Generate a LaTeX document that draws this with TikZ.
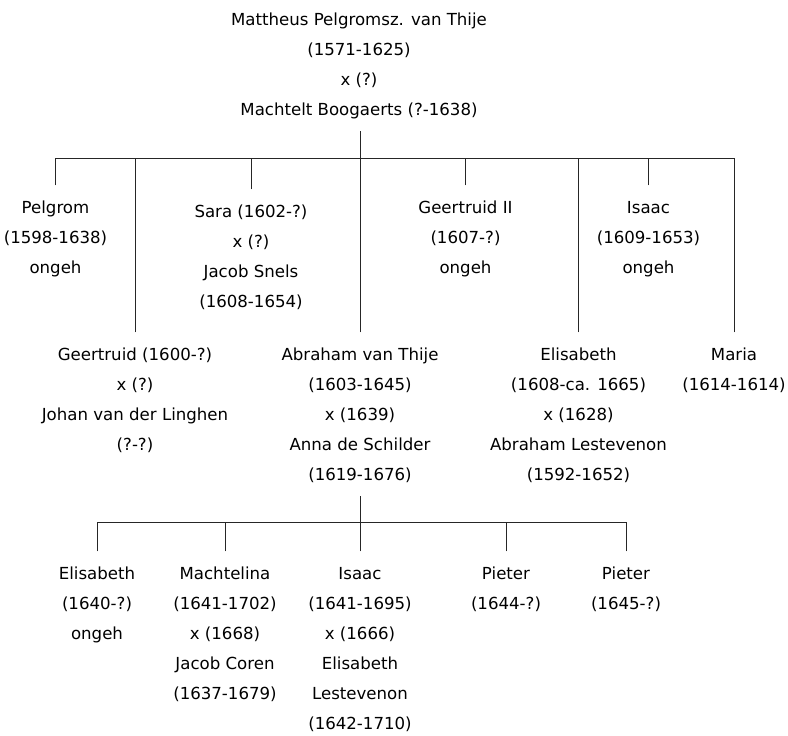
\documentclass[tikz,border=0pt]{standalone}
\usepackage{fontspec}
\setmainfont{DejaVu Sans}
\usetikzlibrary{calc}

\begin{document}
\begin{tikzpicture}[x=1pt, y=-1pt, line cap=rect,
    person/.style={anchor=north, align=center, inner sep=0pt,
        font=\fontsize{16.6}{30}\selectfont},
    tak/.style={line width=0.8pt, black!85},
    kind/.style={tak, shorten >=16pt}]
    \useasboundingbox (0,0) rectangle (788,736);

    % ouders
    \node[person] (mattheus) at (359,13) {Mattheus Pelgromsz. van Thije\\(1571-1625)\\x (?)\\Machtelt Boogaerts (?-1638)};
    \coordinate (s1) at (360,131);
    \coordinate (j1) at (360,158);

    % kinderen, eerste rij
    \node[person] (pelgrom) at (55.5,201) {Pelgrom\\(1598-1638)\\ongeh};
    \node[person] (sara) at (251,205) {Sara (1602-?)\\x (?)\\Jacob Snels\\(1608-1654)};
    \node[person] (geertruid2) at (465.5,201) {Geertruid II\\(1607-?)\\ongeh};
    \node[person] (isaac) at (648.5,201) {Isaac\\(1609-1653)\\ongeh};

    % kinderen, tweede rij
    \node[person] (geertruid) at (135,348) {Geertruid (1600-?)\\x (?)\\Johan van der Linghen\\(?-?)};
    \node[person] (abraham) at (360,348) {Abraham van Thije\\(1603-1645)\\x (1639)\\Anna de Schilder\\(1619-1676)};
    \node[person] (elisabeth) at (578.5,348) {Elisabeth\\(1608-ca. 1665)\\x (1628)\\Abraham Lestevenon\\(1592-1652)};
    \node[person] (maria) at (734,348) {Maria\\(1614-1614)};

    \draw[tak] (s1) -- (j1);
    \draw[tak] (pelgrom.north |- j1) -- (maria.north |- j1);
    \foreach \k in {pelgrom, geertruid, sara, abraham, geertruid2, elisabeth, isaac, maria}
        \draw[kind] (\k.north |- j1) -- (\k.north);

    % kleinkinderen
    \coordinate (s2) at (360,496);
    \coordinate (j2) at (360,522);
    \node[person] (elis) at (97,567) {Elisabeth\\(1640-?)\\ongeh};
    \node[person] (machtelina) at (225,567) {Machtelina\\(1641-1702)\\x (1668)\\Jacob Coren\\(1637-1679)};
    \node[person] (isaac2) at (360,567) {Isaac\\(1641-1695)\\x (1666)\\Elisabeth\\Lestevenon\\(1642-1710)};
    \node[person] (pieter1) at (506,567) {Pieter\\(1644-?)};
    \node[person] (pieter2) at (626,567) {Pieter\\(1645-?)};

    \draw[tak] (s2) -- (j2);
    \draw[tak] (elis.north |- j2) -- (pieter2.north |- j2);
    \foreach \k in {elis, machtelina, isaac2, pieter1, pieter2}
        \draw[kind] (\k.north |- j2) -- (\k.north);
\end{tikzpicture}
\end{document}
